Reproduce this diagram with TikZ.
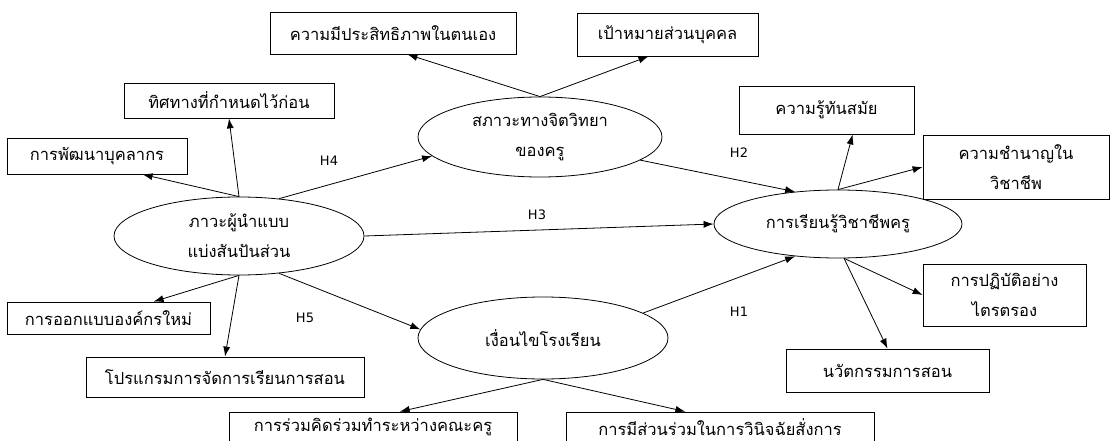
\documentclass[tikz,border=0pt]{standalone}
\usepackage{fontspec}
\newfontfamily\thaifont[Script=Thai]{Loma}
\newfontfamily\labelfont{DejaVu Sans}
\usetikzlibrary{shapes.geometric,arrows.meta}

\begin{document}
\begin{tikzpicture}[
    x=1pt, y=-1pt, line width=0.8pt,
    >={Latex[length=10pt,width=7pt]},
    box/.style={draw, rectangle, inner sep=0pt, align=center,
                font=\thaifont\fontsize{16.5}{30}\selectfont},
    latent/.style={draw, ellipse, inner sep=0pt, align=center,
                   font=\thaifont\fontsize{16.5}{30}\selectfont},
    hyp/.style={font=\labelfont\fontsize{13}{15}\selectfont},
]
\useasboundingbox (0,0) rectangle (1112,441);
% latent variables
\node[latent, minimum width=250pt, minimum height=78pt] (lead)  at (239,236) {ภาวะผู้นำแบบ\\แบ่งสันปันส่วน};
\node[latent, minimum width=244pt, minimum height=80pt] (psych) at (540,137) {สภาวะทางจิตวิทยา\\ของครู};
\node[latent, minimum width=250pt, minimum height=82pt] (cond)  at (543,338) {เงื่อนไขโรงเรียน};
\node[latent, minimum width=248pt, minimum height=68pt] (learn) at (838,224) {การเรียนรู้วิชาชีพครู};
% indicators
\node[box, minimum width=246pt, minimum height=42pt] (eff)     at (393,33)    {ความมีประสิทธิภาพในตนเอง};
\node[box, minimum width=181pt, minimum height=43pt] (goal)    at (667.5,34.5) {เป้าหมายส่วนบุคคล};
\node[box, minimum width=210pt, minimum height=35pt] (dir)     at (229,100.5) {ทิศทางที่กำหนดไว้ก่อน};
\node[box, minimum width=180pt, minimum height=36pt] (dev)     at (97,156)    {การพัฒนาบุคลากร};
\node[box, minimum width=175pt, minimum height=48pt] (know)    at (826.5,110) {ความรู้ทันสมัย};
\node[box, minimum width=186pt, minimum height=64pt] (expert)  at (1016,167)  {ความชำนาญใน\\วิชาชีพ};
\node[box, minimum width=203pt, minimum height=32pt] (org)     at (108.5,318) {การออกแบบองค์กรใหม่};
\node[box, minimum width=278pt, minimum height=40pt] (prog)    at (225,377)   {โปรแกรมการจัดการเรียนการสอน};
\node[box, minimum width=163pt, minimum height=62pt] (reflect) at (1004.5,295) {การปฏิบัติอย่าง\\ไตรตรอง};
\node[box, minimum width=203pt, minimum height=43pt] (innov)   at (887.5,370.5) {นวัตกรรมการสอน};
\node[box, minimum width=288pt, minimum height=30pt] (collab)  at (373,427)   {การร่วมคิดร่วมทำระหว่างคณะครู};
\node[box, minimum width=308pt, minimum height=30pt] (partic)  at (720,427)   {การมีส่วนร่วมในการวินิจฉัยสั่งการ};
% hypotheses
\node[hyp] (h1) at (739,312) {H1};
\node[hyp] (h2) at (739,153) {H2};
\node[hyp] (h3) at (537,215) {H3};
\node[hyp] (h4) at (329,161) {H4};
\node[hyp] (h5) at (305,318) {H5};
\draw[->] (lead.north) -- (dev.-22);
\draw[->] (lead.north) -- (dir.south);
\draw[->] (lead.south) -- (org.20);
\draw[->] (lead.south) -- (prog.north);
\draw[->] (lead.43)    -- (psych.190);
\draw[->] (lead.east)  -- (learn.west);
\draw[->] (lead.-43)   -- (cond.176);
\draw[->] (psych.north) -- (eff.-56);
\draw[->] (psych.north) -- (goal.-131);
\draw[->] (psych.-13)   -- (learn.143);
\draw[->] (cond.14)     -- (learn.-143);
\draw[->] (cond.south)  -- (collab.30);
\draw[->] (cond.south)  -- (partic.156);
\draw[->] (learn.north) -- (know.-43);
\draw[->] (learn.north) -- (expert.west);
\draw[->] (learn.-80)   -- (reflect.west);
\draw[->] (learn.-80)   -- (innov.north);
\end{tikzpicture}
\end{document}
